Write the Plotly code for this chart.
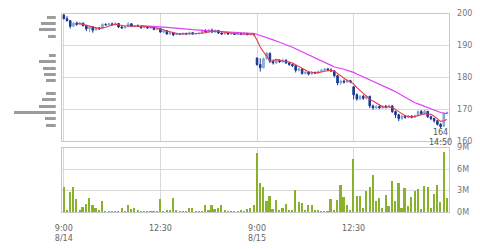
import plotly.graph_objects as go

# ---------------- data ----------------
open_ = [199.6,198.4,197.8,196.0,197.0,196.6,197.0,196.2,195.3,195.8,194.9,195.5,195.3,196.6,196.5,196.8,196.5,196.9,195.8,195.5,
         195.9,196.8,196.0,196.2,196.0,195.6,195.9,195.5,195.7,195.0,
         195.3,194.2,194.6,193.6,194.0,193.4,193.6,193.5,193.8,193.6,194.0,193.6,193.7,193.8,194.6,194.3,194.8,194.2,194.7,193.9,
         193.6,193.9,193.6,193.8,193.5,193.7,193.5,193.8,193.4,193.7,
         186.0,184.0,183.0,185.8,187.5,185.0,184.5,185.3,184.9,185.4,184.5,184.0,183.6,182.2,182.6,181.2,181.6,181.0,181.5,181.3,
         181.8,182.2,182.6,182.3,182.0,180.5,178.2,178.8,178.5,178.9,
         177.0,174.5,173.2,174.0,173.4,174.0,171.0,170.4,170.8,170.4,170.9,170.6,171.0,169.2,168.2,167.0,167.8,167.4,167.8,167.4,
         167.9,169.2,168.6,169.3,167.6,167.0,166.3,165.2,164.6,168.6]
high = [199.8,199.2,197.9,197.4,197.5,197.3,197.2,196.5,196.2,196.0,195.8,195.8,197.0,197.0,197.1,197.2,197.4,197.0,196.2,196.1,
        197.3,197.0,196.4,196.6,196.2,196.1,196.0,195.9,195.9,195.6,
        195.5,194.9,194.8,194.3,194.2,193.9,193.8,194.0,194.0,194.4,194.2,193.9,194.0,195.0,195.1,195.2,195.3,195.0,194.9,194.1,
        194.1,194.0,194.0,193.9,193.9,193.9,194.0,193.9,193.9,193.9,
        186.3,186.0,186.2,188.0,187.8,185.6,185.7,185.6,185.8,185.6,184.8,184.3,183.8,183.0,182.8,182.0,181.9,181.9,181.8,182.1,
        182.6,182.9,182.9,182.8,182.2,180.8,179.3,179.3,179.4,179.2,
        177.2,175.0,174.4,174.5,174.3,174.2,171.4,171.2,171.2,171.2,171.3,171.4,171.2,169.5,168.5,168.2,168.0,168.1,168.0,168.3,
        169.6,169.7,169.8,169.4,167.9,167.3,166.5,165.6,168.9,169.2]
low = [198.2,197.5,195.3,195.9,196.2,196.3,196.0,194.5,194.2,194.0,194.7,194.9,195.2,196.2,196.3,196.3,196.3,195.5,195.2,195.3,
       195.8,195.8,195.7,195.8,195.2,195.4,195.2,195.3,194.8,194.8,
       194.0,193.8,193.4,193.3,193.0,193.2,193.3,193.3,193.4,193.4,193.4,193.5,193.5,193.7,194.0,194.1,194.0,194.0,193.6,193.3,
       193.4,193.4,193.4,193.3,193.3,193.3,193.3,193.2,193.2,193.1,
       183.6,181.8,182.8,185.5,184.5,184.0,184.2,184.5,184.6,184.2,183.6,183.2,181.5,181.8,180.8,180.9,180.6,180.8,181.0,181.1,
       181.6,182.0,182.0,181.7,180.0,177.5,177.6,178.0,178.2,178.1,
       173.0,172.6,172.8,172.9,173.0,170.3,169.8,170.0,170.0,170.1,170.2,170.3,168.8,167.2,166.2,166.6,167.0,167.1,167.1,167.2,
       167.7,168.3,168.3,167.2,166.5,165.7,164.8,164.0,164.4,168.4]
close = [198.4,197.8,196.0,197.0,196.6,197.0,196.2,195.2,195.8,194.8,195.5,195.2,196.6,196.5,196.8,196.5,196.9,195.8,195.5,195.9,
         196.8,196.0,196.2,196.0,195.6,195.9,195.5,195.7,195.0,195.3,
         194.2,194.6,193.6,194.0,193.3,193.6,193.5,193.8,193.6,194.0,193.6,193.7,193.8,194.6,194.3,194.8,194.2,194.7,193.9,193.6,
         193.9,193.6,193.8,193.5,193.7,193.5,193.8,193.4,193.7,193.4,
         184.0,183.0,185.8,187.5,185.0,184.5,185.3,184.9,185.4,184.5,184.0,183.6,182.2,182.6,181.2,181.6,181.0,181.5,181.3,181.8,
         182.2,182.6,182.3,182.0,180.5,178.2,178.8,178.5,178.9,178.6,
         174.5,173.2,174.0,173.4,174.0,171.0,170.4,170.8,170.4,170.9,170.6,171.0,169.2,168.2,167.0,167.8,167.4,167.8,167.4,167.9,
         169.2,168.6,169.3,167.6,167.0,166.3,165.2,164.5,168.6,168.9]

# short moving average (red), starts at the 5th bar
ma_short = [197.16,196.88,196.56,196.40,196.16,195.80,195.50,195.30,195.58,195.72,196.12,196.32,196.66,196.50,196.30,196.12,
            196.18,196.00,196.08,196.18,196.12,195.94,195.84,195.74,195.54,195.48,195.14,194.96,194.54,194.34,193.94,193.82,
            193.60,193.64,193.56,193.70,193.70,193.74,193.74,193.94,194.00,194.24,194.34,194.52,194.38,194.24,194.06,193.94,
            193.76,193.68,193.70,193.62,193.66,193.58,193.62,193.56,191.66,189.50,187.98,186.74,185.06,185.16,185.62,185.44,
            185.02,184.92,184.82,184.48,183.94,183.38,182.72,182.24,181.72,181.58,181.32,181.44,181.56,181.88,182.04,182.18,
            181.92,181.12,180.36,179.60,178.98,178.60,177.86,176.74,175.84,174.74,173.82,173.12,172.56,171.92,171.32,170.70,
            170.62,170.74,170.42,169.98,169.20,168.64,167.92,167.64,167.48,167.66,167.94,168.18,168.48,168.52,168.34,167.76,
            167.08,166.12,166.32,166.70]
# long moving average (magenta), starts at the 25th bar
ma_long = [196.26,196.16,196.07,196.06,195.98,195.93,195.82,195.75,195.69,195.62,195.56,195.48,195.41,195.30,195.18,195.07,
           194.96,194.83,194.75,194.71,194.65,194.57,194.50,194.44,194.35,194.27,194.19,194.12,194.04,193.98,193.92,193.89,
           193.86,193.85,193.84,193.84,193.46,193.04,192.72,192.47,192.11,191.75,191.41,191.06,190.69,190.30,189.86,189.44,
           188.94,188.49,187.99,187.50,187.00,186.50,186.02,185.54,185.09,184.64,184.20,183.73,183.21,182.98,182.81,182.52,
           182.18,181.92,181.52,181.04,180.60,180.12,179.70,179.18,178.65,178.20,177.71,177.30,176.86,176.46,175.96,175.44,
           174.85,174.27,173.66,173.08,172.50,172.00,171.64,171.23,170.86,170.41,169.94,169.62,169.30,168.92,168.72,168.52]

volume_m = [3.6,0.4,2.9,3.6,1.9,0.4,0.8,1.2,2.0,1.1,0.7,0.3,1.6,0.15,0.15,0.1,0.1,0.1,0.65,0.2,
            1.1,0.55,0.7,0.35,0.1,0.1,0.15,0.2,0.15,0.2,
            1.9,0.2,0.4,0.3,2.0,0.4,0.15,0.15,0.2,0.7,0.7,0.1,0.1,0.1,1.0,0.3,1.0,0.5,0.6,1.1,
            0.3,0.2,0.15,0.15,0.1,0.3,0.2,0.55,0.6,1.0,
            8.3,4.1,3.6,1.6,2.3,0.45,1.8,0.3,0.65,1.2,0.3,0.35,3.2,1.5,1.3,0.4,1.0,1.0,0.35,0.3,
            0.1,0.1,0.15,1.9,0.35,1.8,3.8,2.2,1.1,0.3,
            7.5,2.3,2.35,0.7,3.0,3.5,5.3,1.6,2.0,0.7,2.45,0.85,4.35,1.6,4.1,0.6,3.4,0.95,2.2,3.0,
            3.3,0.45,3.7,3.5,0.7,2.6,3.85,1.45,8.5,2.1]

# volume-by-price profile (left side)
profile_price = [199, 197, 195, 193, 187, 185, 183, 181, 179, 175, 173, 171, 169, 167, 165]
profile_vol = [8.5, 15.5, 17.5, 7.5, 6.5, 17.5, 12.8, 11.5, 10.2, 10.2, 13.8, 17.2, 42.8, 10.5, 9.8]

x_ticks = [0, 30, 60, 90]
x_ticktext = ["9:00<br>8/14", "12:30", "9:00<br>8/15", "12:30"]
price_ticks = [160, 170, 180, 190, 200]
vol_ticks = [0, 3, 6, 9]
vol_ticktext = ["0M", "3M", "6M", "9M"]
low_label = "164<br>14:50"
low_index = 117

# ---------------- figure ----------------
W, H = 480, 249
idx = list(range(len(close)))
n_short = len(close) - len(ma_short)
n_long = len(close) - len(ma_long)

FONT = "DejaVu Sans"
TXT = "#777777"
GRID = "#d9d9d9"
BORDER = "#c8c8c8"

fig = go.Figure()
fig.add_trace(go.Candlestick(
    x=idx, open=open_, high=high, low=low, close=close,
    xaxis="x", yaxis="y", whiskerwidth=0,
    increasing=dict(line=dict(color="#7aa3dc", width=1), fillcolor="#93b8e8"),
    decreasing=dict(line=dict(color="#1b3791", width=1), fillcolor="#1b3791"),
    showlegend=False, hoverinfo="skip"))
fig.add_trace(go.Scatter(x=idx[n_long:], y=ma_long, mode="lines",
                         line=dict(color="#e040f5", width=1.2), xaxis="x", yaxis="y",
                         showlegend=False, hoverinfo="skip"))
fig.add_trace(go.Scatter(x=idx[n_short:], y=ma_short, mode="lines",
                         line=dict(color="#e8384a", width=1.1), xaxis="x", yaxis="y",
                         showlegend=False, hoverinfo="skip"))
fig.add_trace(go.Bar(x=idx, y=[v * 1e6 for v in volume_m], width=0.62,
                     marker=dict(color="#88b22c", line=dict(width=0)),
                     xaxis="x2", yaxis="y2", showlegend=False, hoverinfo="skip"))
fig.add_trace(go.Bar(y=profile_price, x=profile_vol, orientation="h", width=0.95,
                     marker=dict(color="#9c9c9c", line=dict(width=0)),
                     xaxis="x3", yaxis="y3", showlegend=False, hoverinfo="skip"))

xdom = [56 / W, 449 / W]
ydom_price = [1 - 142 / H, 1 - 10 / H]
ydom_vol = [1 - 216 / H, 1 - 149 / H]
xr = [-0.5, 119.75]

fig.update_layout(
    width=W, height=H, margin=dict(l=0, r=0, t=0, b=0),
    paper_bgcolor="white", plot_bgcolor="white",
    font=dict(family=FONT, size=8, color=TXT),
    bargap=0,
    xaxis=dict(domain=xdom, range=xr, anchor="y", tickvals=x_ticks, showticklabels=False,
               showgrid=True, gridcolor=GRID, gridwidth=1, zeroline=False,
               showline=True, mirror=True, linecolor=BORDER, ticks="",
               rangeslider=dict(visible=False)),
    yaxis=dict(domain=ydom_price, range=[price_ticks[0], price_ticks[-1]], anchor="x", side="right",
               tickvals=price_ticks, showgrid=True, gridcolor=GRID, zeroline=False,
               showline=True, mirror=True, linecolor=BORDER, ticks="",
               ticklabelstandoff=5, tickfont=dict(size=8, color=TXT)),
    xaxis2=dict(domain=xdom, range=xr, anchor="y2", matches="x", tickvals=x_ticks, ticktext=x_ticktext,
                showgrid=True, gridcolor=GRID, zeroline=False, showline=True, mirror=True,
                linecolor=BORDER, ticks="", ticklabelstandoff=8, tickfont=dict(size=8, color="#666666")),
    yaxis2=dict(domain=ydom_vol, range=[0, vol_ticks[-1] * 1e6], anchor="x2", side="right",
                tickvals=[v * 1e6 for v in vol_ticks], ticktext=vol_ticktext,
                showgrid=True, gridcolor=GRID, zeroline=False, showline=True, mirror=True,
                linecolor=BORDER, ticks="", ticklabelstandoff=5, tickfont=dict(size=8, color=TXT)),
    xaxis3=dict(domain=[0, 49.5 / W], range=[49.5, 0], anchor="y3", visible=False, showgrid=False),
    yaxis3=dict(domain=ydom_price, range=[price_ticks[0], price_ticks[-1]], anchor="x3",
                visible=False, showgrid=False),
    annotations=[dict(x=low_index, y=low[low_index], xref="x", yref="y", text=low_label,
                      showarrow=False, xanchor="center", yanchor="top", yshift=2,
                      font=dict(size=8, color="#555555"))],
)

fig.write_html("out.html")
